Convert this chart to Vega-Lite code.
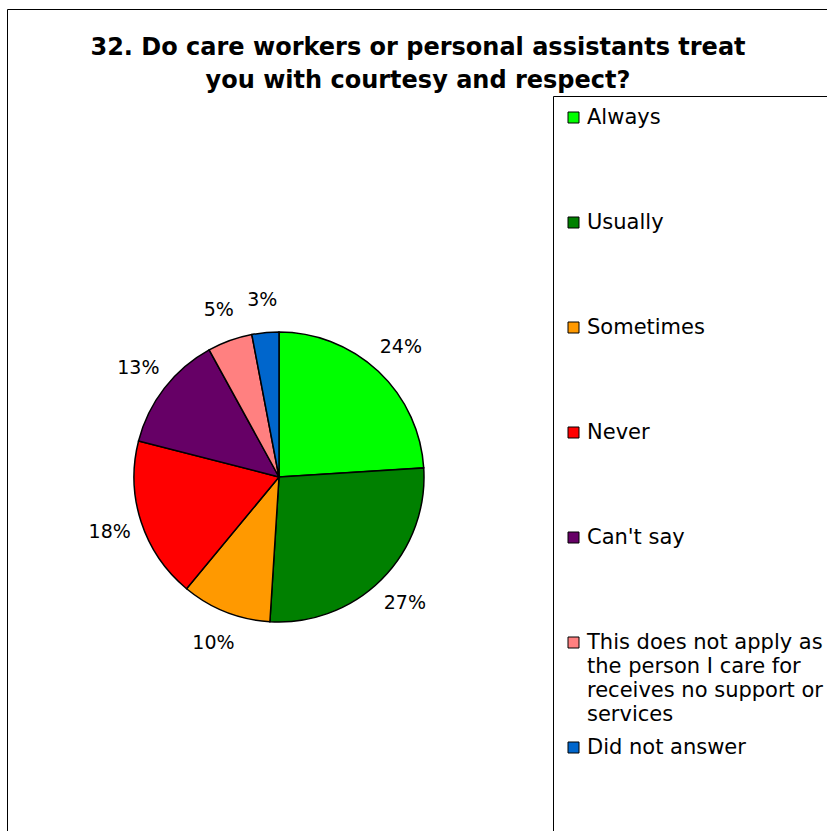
{
  "$schema": "https://vega.github.io/schema/vega-lite/v6.json",
  "width": 540,
  "height": 708,
  "autosize": {"type": "none"},
  "padding": {"left": 9, "top": 123, "right": 278, "bottom": 0},
  "background": "white",
  "title": {
    "text": ["32. Do care workers or personal assistants treat", "you with courtesy and respect?"],
    "font": "DejaVu Sans",
    "fontSize": 24,
    "fontWeight": "bold",
    "lineHeight": 33,
    "color": "black",
    "frame": "group",
    "anchor": "middle",
    "dx": 139,
    "offset": -84
  },
  "data": {
    "values": [
      {"answer": "Always", "pct": 24, "label": "24%", "order": 1},
      {"answer": "Usually", "pct": 27, "label": "27%", "order": 2},
      {"answer": "Sometimes", "pct": 10, "label": "10%", "order": 3},
      {"answer": "Never", "pct": 18, "label": "18%", "order": 4},
      {"answer": "Can't say", "pct": 13, "label": "13%", "order": 5},
      {"answer": "This does not apply as the person I care for receives no support or services", "pct": 5, "label": "5%", "order": 6},
      {"answer": "Did not answer", "pct": 3, "label": "3%", "order": 7}
    ]
  },
  "encoding": {
    "theta": {"field": "pct", "type": "quantitative", "stack": true},
    "order": {"field": "order", "type": "quantitative"}
  },
  "layer": [
    {
      "mark": {"type": "arc", "outerRadius": 145, "stroke": "black", "strokeWidth": 1.5},
      "encoding": {
        "color": {
          "field": "answer",
          "type": "nominal",
          "scale": {
            "domain": ["Always", "Usually", "Sometimes", "Never", "Can't say", "This does not apply as the person I care for receives no support or services", "Did not answer"],
            "range": ["#00FF00", "#008000", "#FF9900", "#FF0000", "#660066", "#FF8080", "#0066CC"]
          },
          "legend": {
            "orient": "none",
            "legendX": 544,
            "legendY": -27,
            "padding": 10,
            "strokeColor": "black",
            "title": " ",
            "titleFontSize": 1,
            "titlePadding": 0,
            "symbolType": "square",
            "symbolSize": 121,
            "symbolStrokeColor": "black",
            "symbolStrokeWidth": 1,
            "labelFont": "DejaVu Sans",
            "labelFontSize": 21,
            "labelColor": "black",
            "labelOffset": 3,
            "labelLimit": 400,
            "rowPadding": 11,
            "labelExpr": "datum.label == 'This does not apply as the person I care for receives no support or services' ? ['This does not apply as', 'the person I care for', 'receives no support or', 'services'] : [datum.label, '', '', '']",
            "encode": {
              "labels": {"update": {"lineHeight": {"value": 24}}}
            }
          }
        },
        "opacity": {
          "field": "pct",
          "type": "quantitative",
          "scale": {"range": [1, 1]},
          "legend": {
            "orient": "none",
            "legendX": -2,
            "legendY": -114,
            "padding": 420,
            "strokeColor": "black",
            "title": null,
            "values": [24],
            "symbolType": "circle",
            "symbolSize": 0,
            "symbolStrokeWidth": 0,
            "symbolFillColor": "transparent",
            "labelColor": "transparent",
            "labelFontSize": 1,
            "encode": {"legend": {"update": {"strokeWidth": {"value": 2}}}}
          }
        }
      }
    },
    {
      "mark": {"type": "text", "radius": 178, "font": "DejaVu Sans", "fontSize": 19, "color": "black"},
      "encoding": {
        "text": {"field": "label", "type": "nominal"}
      }
    }
  ],
  "config": {"view": {"stroke": null}}
}
